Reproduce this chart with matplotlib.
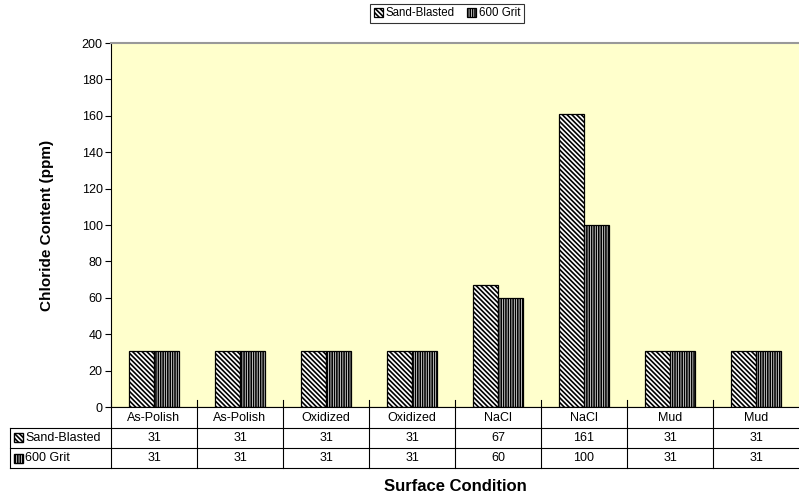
import matplotlib
matplotlib.use("Agg")
import matplotlib.pyplot as plt
import numpy as np
from matplotlib.patches import Rectangle
from matplotlib.lines import Line2D

plt.rcParams['font.family'] = ['Liberation Sans', 'DejaVu Sans']
plt.rcParams['hatch.linewidth'] = 1.2

categories = ["As-Polish", "As-Polish", "Oxidized", "Oxidized", "NaCl", "NaCl", "Mud", "Mud"]
series_names = ["Sand-Blasted", "600 Grit"]
sand_blasted = [31, 31, 31, 31, 67, 161, 31, 31]
grit_600 = [31, 31, 31, 31, 60, 100, 31, 31]
yticks = [0, 20, 40, 60, 80, 100, 120, 140, 160, 180, 200]

W, H = 799, 498
fig = plt.figure(figsize=(W/100, H/100), dpi=100)

L, R, T, B = 111, 799, 43, 407
ax = fig.add_axes([L/W, 1-B/H, (R-L)/W, (B-T)/H])
ax.set_facecolor('#FFFFCC')
n = len(categories)
x = np.arange(n)
bw = 0.29
hatches = ['\\' * 7, '|' * 7]
vals = [sand_blasted, grit_600]
bars = []
for i, (v, h) in enumerate(zip(vals, hatches)):
    b = ax.bar(x + (i - 0.5) * bw, v, width=bw, color='white', edgecolor='black',
               hatch=h, linewidth=0.9, zorder=3)
    bars.append(b)
ax.set_xlim(-0.5, n - 0.5)
ax.set_ylim(0, 200)
ax.set_yticks(yticks)
ax.tick_params(axis='y', labelsize=9, length=4, direction='out', pad=2)
ax.set_xticks([])
for s in ['right', 'bottom']:
    ax.spines[s].set_visible(False)
ax.spines['top'].set_color('#999999')
ax.spines['top'].set_linewidth(1.5)
ax.spines['left'].set_color('black')
ax.spines['left'].set_linewidth(0.8)
ax.axhline(0, color='black', lw=0.8, zorder=4)
ax.set_ylabel("Chloride Content (ppm)", fontsize=11, fontweight='bold', labelpad=20)

def fx(px): return px / W
def fy(py): return 1 - py / H
lc = 'black'
lw = 0.8
row_y = [407, 428, 448, 468]
col_w = (R - L) / n
col_x = [L + i * col_w for i in range(n + 1)]
tl = 10
fig.add_artist(Line2D([fx(L), fx(R)], [fy(407), fy(407)], color=lc, lw=lw))
for yy in row_y[1:]:
    fig.add_artist(Line2D([fx(tl), fx(R)], [fy(yy), fy(yy)], color=lc, lw=lw))
for cx in col_x[:-1]:
    fig.add_artist(Line2D([fx(cx), fx(cx)], [fy(400), fy(468)], color=lc, lw=lw))
fig.add_artist(Line2D([fx(tl), fx(tl)], [fy(428), fy(468)], color=lc, lw=lw))

for i, c in enumerate(categories):
    cx = (col_x[i] + col_x[i + 1]) / 2
    fig.text(fx(cx), fy(417.5), c, ha='center', va='center', fontsize=9)
    fig.text(fx(cx), fy(438), str(sand_blasted[i]), ha='center', va='center', fontsize=9)
    fig.text(fx(cx), fy(458), str(grit_600[i]), ha='center', va='center', fontsize=9)

for ri, (name, h) in enumerate(zip(series_names, hatches)):
    yc = 438 + ri * 20
    fig.add_artist(Rectangle((fx(14), fy(yc + 4.5)), 9 / W, 9 / H, facecolor='white',
                             edgecolor='black', hatch=h, lw=1.0, transform=fig.transFigure))
    fig.text(fx(25), fy(yc), name, ha='left', va='center', fontsize=9)

fig.text(fx(455), fy(486), "Surface Condition", ha='center', va='center',
         fontsize=12, fontweight='bold')

leg = fig.legend(bars, series_names, loc='center', bbox_to_anchor=(fx(447), fy(13.5)),
                 ncol=2, fontsize=8.3, frameon=True, fancybox=False, edgecolor='black',
                 handlelength=0.8, handleheight=0.8, handletextpad=0.25, columnspacing=1.0,
                 borderpad=0.3, borderaxespad=0)
leg.get_frame().set_linewidth(0.8)

fig.savefig("out.png", dpi=100)
